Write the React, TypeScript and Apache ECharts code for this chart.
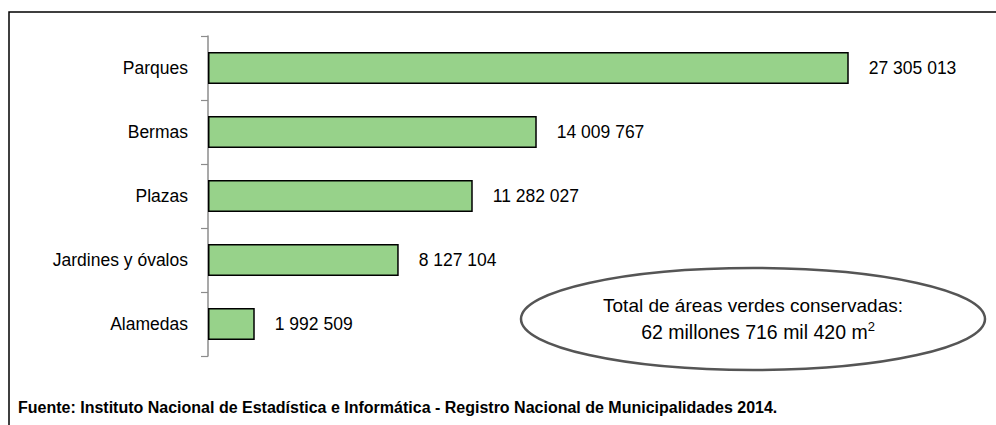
import React, { useEffect, useRef } from "react";
import * as echarts from "echarts";

const categories = ["Parques", "Bermas", "Plazas", "Jardines y óvalos", "Alamedas"];
const values = [27305013, 14009767, 11282027, 8127104, 1992509];
const totalLine1 = "Total de áreas verdes conservadas:";
const totalLine2 = "62 millones 716 mil 420 m";
const sourceText =
  "Fuente: Instituto Nacional de Estadística e Informática - Registro Nacional de Municipalidades 2014.";

const fmt = (v: number) => String(v).replace(/\B(?=(\d{3})+(?!\d))/g, " ");

const FONT = "'Liberation Sans', Arial, sans-serif";

export default function App() {
  const ref = useRef<HTMLDivElement>(null);
  useEffect(() => {
    if (!ref.current) return;
    const chart = echarts.init(ref.current, null, { renderer: "svg" });
    chart.setOption({
      animation: false,
      backgroundColor: "#ffffff",
      textStyle: { fontFamily: FONT },
      grid: { left: 208, right: 84, top: 36, bottom: 69, containLabel: false },
      xAxis: {
        type: "value",
        min: 0,
        max: 30000000,
        show: false,
      },
      yAxis: {
        type: "category",
        data: categories,
        inverse: true,
        axisLine: { show: true, lineStyle: { color: "#8c8c8c", width: 1.5 } },
        axisTick: { show: true, length: 7, lineStyle: { color: "#8c8c8c", width: 1.2 } },
        axisLabel: { margin: 20, color: "#000", fontSize: 17.5, fontFamily: FONT },
      },
      series: [
        {
          type: "bar",
          data: values,
          barWidth: "50%",
          itemStyle: { color: "#97D28A", borderColor: "#000", borderWidth: 1.5 },
          label: {
            show: true,
            position: "right",
            distance: 20,
            color: "#000",
            fontSize: 17.5,
            fontFamily: FONT,
            formatter: (p: any) => fmt(p.value),
          },
        },
      ],
      graphic: [
        {
          type: "rect",
          shape: { x: 9, y: 12, width: 1200, height: 600 },
          style: { fill: "none", stroke: "#000", lineWidth: 1.5 },
          silent: true,
        },
        {
          type: "ellipse",
          shape: { cx: 753, cy: 319, rx: 232, ry: 51 },
          style: { fill: "none", stroke: "#555", lineWidth: 2.5 },
          silent: true,
        },
        {
          type: "text",
          x: 753,
          y: 305,
          style: {
            text: totalLine1,
            fontSize: 19,
            fontFamily: FONT,
            fill: "#000",
            align: "center",
            verticalAlign: "middle",
          },
        },
        {
          type: "text",
          x: 758,
          y: 332,
          style: {
            text: "{a|" + totalLine2 + "}{s|2}",
            align: "center",
            verticalAlign: "middle",
            rich: {
              a: { fontSize: 19.5, fontFamily: FONT, fill: "#000", color: "#000", lineHeight: 24 },
              s: {
                fontSize: 13,
                fontFamily: FONT,
                fill: "#000",
                color: "#000",
                verticalAlign: "top",
                lineHeight: 24,
                padding: [0, 0, 8, 0],
              },
            },
          },
        },
        {
          type: "text",
          x: 18,
          y: 407,
          style: {
            text: sourceText,
            fontSize: 16,
            fontWeight: "bold",
            fontFamily: FONT,
            fill: "#000",
            align: "left",
            verticalAlign: "middle",
          },
        },
      ],
    });
    return () => chart.dispose();
  }, []);
  return (
    <div
      ref={ref}
      style={{ position: "fixed", left: 0, top: 0, width: 996, height: 425 }}
    />
  );
}
